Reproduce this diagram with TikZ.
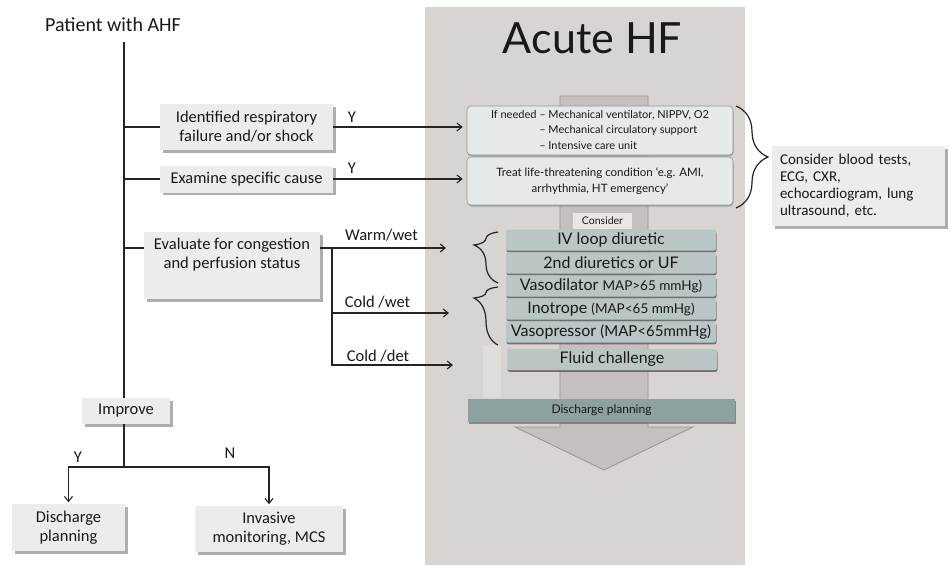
\documentclass[tikz,border=0pt]{standalone}
\usepackage{fontspec}
\setmainfont{Carlito}
\newfontfamily\panelfont{Lato}
\usetikzlibrary{arrows.meta,shadows,decorations.pathreplacing}

\definecolor{panelc}{RGB}{216,212,209}
\definecolor{stripc}{RGB}{223,220,218}
\definecolor{lboxc}{RGB}{236,236,236}
\definecolor{arrowc}{RGB}{197,192,191}
\definecolor{arrowe}{RGB}{150,145,144}
\definecolor{topboxc}{RGB}{229,233,234}
\definecolor{topboxe}{RGB}{150,152,152}
\definecolor{stackc}{RGB}{186,197,198}
\definecolor{dischc}{RGB}{141,161,160}
\definecolor{considc}{RGB}{233,230,228}
\definecolor{linec}{RGB}{40,35,35}
\definecolor{txt}{RGB}{25,25,25}

\begin{document}
\begin{tikzpicture}[x=1pt,y=-1pt,
  line/.style={draw=linec, line width=1.1pt},
  arr/.style={line, -{Straight Barb[length=5pt,width=8pt]}},
  lbox/.style={fill=lboxc, inner sep=0pt, align=center, text=txt,
    font=\fontsize{16.5}{19}\selectfont,
    drop shadow={shadow xshift=2.5pt, shadow yshift=-2.5pt, fill=black!45, opacity=0.7}},
  lbl/.style={inner sep=0pt, text=txt, font=\fontsize{16.5}{19}\selectfont},
  topbox/.style={fill=topboxc, draw=topboxe, line width=0.6pt, rounded corners=4pt,
    inner sep=0pt, text=txt, align=center, font=\panelfont\fontsize{11}{15.5}\selectfont,
    drop shadow={shadow xshift=0.5pt, shadow yshift=-1.5pt, fill=black!50, opacity=0.6}},
  stackbox/.style={fill=stackc, rounded corners=2pt, inner sep=0pt,
    minimum width=210pt, minimum height=21pt, text=txt,
    font=\panelfont\fontsize{16}{18}\selectfont,
    drop shadow={shadow xshift=0.5pt, shadow yshift=-1.8pt, fill=black!65, opacity=0.8}},
  bracestyle/.style={draw=linec, line width=1.2pt, decorate},
]
\useasboundingbox (0,0) rectangle (950,565);
\fill[white] (0,0) rectangle (950,565);

% panel and big arrow
\fill[panelc] (425,7) rectangle (745,565);
\fill[stripc] (483,345) rectangle (501,398);
\filldraw[fill=arrowc, draw=arrowe, line width=0.8pt]
  (560,96) -- (648,96) -- (648,427) -- (693,427) -- (604,470) -- (515,427) -- (560,427) -- cycle;

\node (title) [inner sep=0pt, text=txt, font=\panelfont\fontsize{43}{48}\selectfont] at (592.5,38.5) {Acute HF};

\node (ifneed) [topbox, minimum width=266pt, minimum height=49pt] at (600,130.5)
  {\begin{tabular}{@{}r@{ }l@{}}If needed & – Mechanical ventilator, NIPPV, O2\\ & – Mechanical circulatory support\\ & – Intensive care unit\end{tabular}};
\node (treat) [topbox, minimum width=266pt, minimum height=48pt, font=\panelfont\fontsize{11.5}{15.5}\selectfont] at (600,181)
  {Treat life-threatening condition ‘e.g. AMI,\\arrhythmia, HT emergency’};

\node (consider) [fill=considc, inner sep=0pt, minimum width=59pt, minimum height=16pt, text=txt,
  font=\panelfont\fontsize{10.5}{12}\selectfont] at (602.5,221) {Consider};

\node (iv) [stackbox] at (611,240) {IV loop diuretic};
\node (second) [stackbox] at (611,263) {2nd diuretics or UF};
\node (vaso) [stackbox] at (611,286) {Vasodilator {\fontsize{13.5}{16}\selectfont MAP>65 mmHg)}};
\node (ino) [stackbox] at (611,309) {Inotrope {\fontsize{13.5}{16}\selectfont (MAP<65 mmHg)}};
\node (press) [stackbox] at (611,332) {Vasopressor {\fontsize{15}{17}\selectfont (MAP<65mmHg)}};
\node (fluid) [stackbox] at (612,359.5) {Fluid challenge};

\node (dischp) [fill=dischc, inner sep=0pt, minimum width=267pt, minimum height=23pt, text=txt,
  font=\panelfont\fontsize{12}{14}\selectfont,
  drop shadow={shadow xshift=1pt, shadow yshift=-2pt, fill=black!60, opacity=0.7}] at (601.5,410.5) {Discharge planning};

% braces
\draw[bracestyle, decoration={brace, amplitude=24pt, aspect=0.745}] (498,283) -- (498,232);
\draw[bracestyle, decoration={brace, amplitude=24pt, aspect=0.81}] (498,345) -- (498,287);
\draw[bracestyle, decoration={brace, amplitude=32pt}] (736,106) -- (736,208);

\node (tests) [lbox, font=\fontsize{15}{17}\selectfont, align=left, text width=157pt,
  minimum height=80pt, inner xsep=8pt] at (858.5,186)
  {Consider blood tests,\\ECG, CXR,\\echocardiogram, lung\\ultrasound, etc.};

% left flowchart
\node (patient) [lbl, font=\fontsize{20}{24}\selectfont] at (113,25) {Patient with AHF};
\node (resp) [lbox, minimum width=173pt, minimum height=46pt] at (246.5,127) {Identified respiratory\\failure and/or shock};
\node (exam) [lbox, minimum width=173pt, minimum height=27pt] at (246.5,179) {Examine specific cause};
\node (eval) [lbox, minimum width=176pt, minimum height=67pt] at (232,265.5) {};
\node (evalt) [lbl, align=center] at (232,255) {Evaluate for congestion\\and perfusion status};
\node (improve) [lbox, minimum width=88pt, minimum height=26pt] at (126,411) {Improve};
\node (dischl) [lbox, minimum width=113pt, minimum height=47pt] at (68.5,527.5) {Discharge\\planning};
\node (inv) [lbox, minimum width=148pt, minimum height=46pt] at (269,529) {Invasive\\monitoring, MCS};

\node (y1) [lbl] at (352,117) {Y};
\node (y2) [lbl] at (352,168) {Y};
\node (ww) [lbl] at (381.5,235) {Warm/wet};
\node (cw) [lbl] at (377.5,302) {Cold /wet};
\node (cd) [lbl] at (378,356) {Cold /det};
\node (yimp) [lbl] at (78,457) {Y};
\node (nimp) [lbl] at (230,453) {N};

% connectors
\coordinate (trunk) at (124,42);
\coordinate (split) at (124,467);
\coordinate (ew) at (0,248);
\coordinate (vsplit) at (332,248);
\coordinate (wwEnd) at (446,248);
\coordinate (cwEnd) at (449,313);
\coordinate (cdEnd) at (453,365);

\draw[line] (trunk) -- (trunk |- improve.north);
\draw[line] (trunk |- resp.west) -- (resp.west);
\draw[line] (trunk |- exam.west) -- (exam.west);
\draw[line] (trunk |- ew) -- (eval.west |- ew);
\draw[arr, shorten >=4pt] (resp.east) -- (resp.east -| ifneed.west);
\draw[arr, shorten >=4pt] (exam.east) -- (exam.east -| treat.west);
\draw[arr] (eval.east |- ew) -- (wwEnd);
\draw[arr] (vsplit) |- (cdEnd);
\draw[arr] (vsplit |- cwEnd) -- (cwEnd);
\draw[line] (trunk |- improve.south) -- (split);
\draw[arr, shorten >=1.5pt] (split) -| (dischl.north);
\draw[arr, shorten >=1.5pt] (split) -| (inv.north);
\end{tikzpicture}
\end{document}
